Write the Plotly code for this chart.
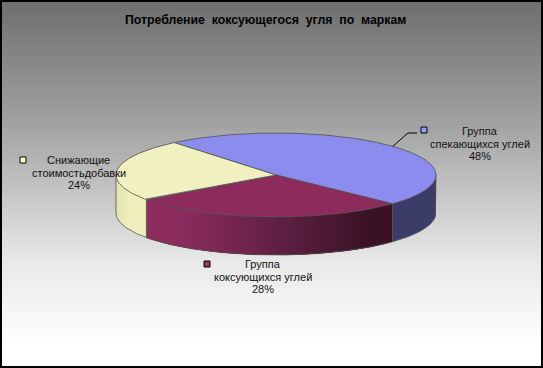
import math
import plotly.graph_objects as go

# ---- data ----
categories = [["Группа", "спекающихся углей"], ["Группа", "коксующихся углей"], ["Снижающие", "стоимостьдобавки"]]
values = [48, 28, 24]
percent_labels = ["48%", "28%", "24%"]
title_text = "Потребление\u00a0\u00a0коксующегося\u00a0\u00a0угля\u00a0\u00a0по\u00a0\u00a0маркам"

# ---- style ----
W, H = 543, 368
CX, CY, RX, RY, DEPTH = 276, 175, 160, 42, 38
START_ANGLE = -39.5
top_colors = ["#8c8cee", "#8e2b5d", "#f0f0c0"]
key_colors = ["#9999ff", "#993366", "#ffffcc"]
key_pos = [(424, 130), (207, 264), (23, 160)]
label_pos = [(480, 131), (262.5, 264), (78.5, 160)]
LINE_STEP = 12.5
FONT = "Liberation Sans"
OUTLINE = "#505050"
OUTLINE_W = 0.8
bg_stops = [(0, 110), (130, 165), (260, 232), (310, 246), (345, 255), (368, 255)]
blue_side = [(396, "#3c3c68"), (436, "#3c3c68")]
maroon_side = [(146, "#8f2d5f"), (190, "#882b5c"), (280, "#5f2045"), (370, "#3a1224"), (396, "#3b1123")]
yellow_side = [(116, "#e4e4b4"), (130, "#efefbd"), (148, "#efefbd")]
side_by_slice = [blue_side, maroon_side, yellow_side]


def hex_rgb(c):
    return tuple(int(c[i:i + 2], 16) for i in (1, 3, 5))


def color_at(stops, x):
    if x <= stops[0][0]:
        return stops[0][1]
    for (x0, c0), (x1, c1) in zip(stops, stops[1:]):
        if x <= x1:
            t = (x - x0) / (x1 - x0)
            a, b = hex_rgb(c0), hex_rgb(c1)
            return "rgb(%d,%d,%d)" % tuple(round(p + (q - p) * t) for p, q in zip(a, b))
    return stops[-1][1]


def pt(deg, dy=0):
    r = math.radians(deg)
    return CX + RX * math.sin(r), CY - RY * math.cos(r) + dy


def arc(a0, a1, n=None, dy=0):
    n = n or max(2, int(abs(a1 - a0) * 1.5))
    return [pt(a0 + (a1 - a0) * i / n, dy) for i in range(n + 1)]


def plain():
    return dict(mode="lines", hoverinfo="skip", showlegend=False)


def bg_level(y):
    for (y0, g0), (y1, g1) in zip(bg_stops, bg_stops[1:]):
        if y <= y1:
            return g0 + (g1 - g0) * (y - y0) / (y1 - y0)
    return bg_stops[-1][1]


fig = go.Figure()

# background gradient, drawn as a heatmap in pixel space
bg_y = list(range(0, H, 4)) + [H]
bg_z = [[bg_level(y), bg_level(y)] for y in bg_y]
fig.add_trace(go.Heatmap(x=[0, W], y=bg_y, z=bg_z, zmin=0, zmax=255, zsmooth="best",
                         colorscale=[[0, "#000000"], [1, "#ffffff"]], showscale=False, hoverinfo="skip"))

# slice angles from the data
total = sum(values)
angles = [START_ANGLE]
for v in values:
    angles.append(angles[-1] + v / total * 360)

# side wall: only the front half of the ellipse (90..270 degrees) is visible
for i in range(len(values)):
    a0, a1 = max(angles[i], 90), min(angles[i + 1], 270)
    if a1 <= a0:
        continue
    uniform = len({c for _, c in side_by_slice[i]}) == 1
    steps = 1 if uniform else max(1, int((a1 - a0) / 1.0))
    for s in range(steps):
        b0 = a0 + (a1 - a0) * s / steps
        b1 = a0 + (a1 - a0) * (s + 1) / steps
        b1x = min(b1 + 3, a1)
        n = 40 if uniform else 6
        top = arc(b0, b1x, n)
        bot = arc(b1x, b0, n, DEPTH)
        poly = top + bot + [top[0]]
        col = color_at(side_by_slice[i], pt((b0 + b1) / 2)[0])
        fig.add_trace(go.Scatter(x=[p[0] for p in poly], y=[p[1] for p in poly], fill="toself", fillcolor=col,
                                 line=dict(width=0, color=col), **plain()))

# wall vertical edges
for a in angles:
    if 90 < a % 360 < 270:
        p = pt(a)
        fig.add_trace(go.Scatter(x=[p[0], p[0]], y=[p[1], p[1] + DEPTH],
                                 line=dict(color=OUTLINE, width=OUTLINE_W), **plain()))

# outer wall outline
lo = arc(90, 270, 240, DEPTH)
rim = [pt(90)] + lo + [pt(270)]
fig.add_trace(go.Scatter(x=[p[0] for p in rim], y=[p[1] for p in rim],
                         line=dict(color=OUTLINE, width=OUTLINE_W), **plain()))

# top faces
for i in range(len(values)):
    poly = [(CX, CY)] + arc(angles[i], angles[i + 1]) + [(CX, CY)]
    fig.add_trace(go.Scatter(x=[p[0] for p in poly], y=[p[1] for p in poly], fill="toself",
                             fillcolor=top_colors[i], line=dict(color=OUTLINE, width=OUTLINE_W), **plain()))

# leader line for the first slice, from its mid angle
mid = (angles[0] + angles[1]) / 2
ax, ay = pt(mid)
fig.add_trace(go.Scatter(x=[ax, 408, 417], y=[ay, 133, 133], line=dict(color="#000000", width=1), **plain()))

# legend keys
for i in range(len(values)):
    fig.add_trace(go.Scatter(x=[key_pos[i][0]], y=[key_pos[i][1]], mode="markers", hoverinfo="skip", showlegend=False,
                             marker=dict(symbol="square", size=6, color=key_colors[i],
                                         line=dict(color="#000000", width=1))))

anns = []
for i in range(len(values)):
    lines = categories[i] + [percent_labels[i]]
    for j, t in enumerate(lines):
        anns.append(dict(x=label_pos[i][0], y=label_pos[i][1] + j * LINE_STEP, text=t, xref="x", yref="y",
                         showarrow=False, xanchor="center", yanchor="middle",
                         font=dict(family=FONT, size=11, color="#111111")))
anns.append(dict(x=265.5, y=20, text="<b>" + title_text + "</b>", xref="x", yref="y", showarrow=False,
                 xanchor="center", yanchor="middle", font=dict(family=FONT, size=12.3, color="#000000")))

fig.update_layout(
    width=W, height=H, margin=dict(l=0, r=0, t=0, b=0), autosize=False,
    paper_bgcolor="#ffffff", plot_bgcolor="#ffffff", showlegend=False, annotations=anns,
    xaxis=dict(range=[0, W], visible=False, fixedrange=True),
    yaxis=dict(range=[H, 0], visible=False, fixedrange=True),
    shapes=[dict(type="rect", xref="x", yref="y", x0=1, y0=1, x1=W - 1, y1=H - 1,
                 line=dict(color="#000000", width=2), fillcolor="rgba(0,0,0,0)")],
)
fig.write_html("out.html", config=dict(displayModeBar=False),
               post_script="document.body.style.margin='0';document.documentElement.style.overflow='hidden';")
